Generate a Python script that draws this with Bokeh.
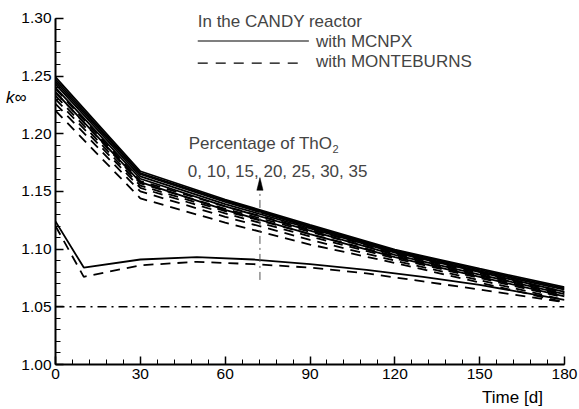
from bokeh.plotting import figure
from bokeh.models import (Range1d, SingleIntervalTicker, Label, NumeralTickFormatter,
                          LinearAxis, FixedTicker, CustomJSTickFormatter)
from bokeh.embed import file_html
from bokeh.resources import INLINE

FONT = "Liberation Sans"

# ---- data ----
t_main = [0, 30, 60, 90, 120, 150, 180]
percentages = [10, 15, 20, 25, 30, 35]
mcnpx_10 = [1.236, 1.158, 1.134, 1.113, 1.093, 1.076, 1.059]
mcnpx_15 = [1.240, 1.161, 1.137, 1.116, 1.095, 1.078, 1.061]
mcnpx_20 = [1.243, 1.163, 1.139, 1.118, 1.097, 1.080, 1.063]
mcnpx_25 = [1.245, 1.165, 1.141, 1.119, 1.098, 1.081, 1.065]
mcnpx_30 = [1.247, 1.166, 1.142, 1.120, 1.099, 1.082, 1.066]
mcnpx_35 = [1.249, 1.1675, 1.143, 1.121, 1.0995, 1.083, 1.067]
mb_10 = [1.220, 1.144, 1.123, 1.104, 1.088, 1.071, 1.054]
mb_15 = [1.226, 1.150, 1.128, 1.108, 1.090, 1.073, 1.056]
mb_20 = [1.230, 1.153, 1.131, 1.111, 1.092, 1.075, 1.058]
mb_25 = [1.233, 1.155, 1.133, 1.113, 1.094, 1.077, 1.060]
mb_30 = [1.236, 1.157, 1.135, 1.115, 1.096, 1.079, 1.062]
mb_35 = [1.239, 1.159, 1.137, 1.117, 1.097, 1.080, 1.063]

t_zero = [0, 10, 30, 50, 70, 90, 110, 130, 150, 180]
mcnpx_0 = [1.124, 1.084, 1.091, 1.093, 1.091, 1.087, 1.082, 1.076, 1.069, 1.056]
mb_0 = [1.120, 1.076, 1.086, 1.089, 1.087, 1.084, 1.079, 1.072, 1.065, 1.054]

limit_t = [0, 180]
limit_k = [1.05, 1.05]

x_ticks_interval = 30
y_ticks_interval = 0.05

# ---- figure ----
p = figure(width=579, height=409, output_backend="svg", toolbar_location=None,
           x_range=Range1d(0, 180), y_range=Range1d(1.0, 1.3155),
           min_border_left=55, min_border_right=15, min_border_top=0, min_border_bottom=43)
p.outline_line_color = None
p.xgrid.visible = False
p.ygrid.visible = False
p.background_fill_color = "white"
p.border_fill_color = "white"

xax = p.xaxis[0]
yax = p.yaxis[0]
xax.ticker = SingleIntervalTicker(interval=x_ticks_interval, num_minor_ticks=5)
yax.ticker = SingleIntervalTicker(interval=y_ticks_interval, num_minor_ticks=5)
yax.formatter = NumeralTickFormatter(format="0.00")
yax.bounds = (1.0, 1.3)
for ax in (xax, yax):
    ax.axis_line_width = 2
    ax.axis_line_color = "black"
    ax.major_tick_in = 8
    ax.major_tick_out = 0
    ax.minor_tick_in = 5
    ax.minor_tick_out = 0
    ax.major_tick_line_width = 1.5
    ax.minor_tick_line_width = 1
    ax.major_tick_line_color = "black"
    ax.minor_tick_line_color = "black"
    ax.major_label_text_font = FONT
    ax.major_label_text_font_size = "15.5px"
    ax.major_label_text_color = "black"
    ax.major_label_standoff = 4

# ---- axis titles as extra label-only axes ----
time_axis = LinearAxis(ticker=FixedTicker(ticks=[161.6], minor_ticks=[]),
                       formatter=CustomJSTickFormatter(code="return 'Time [d]'"),
                       axis_line_color=None, major_tick_line_color=None,
                       minor_tick_line_color=None, major_label_standoff=0,
                       major_label_text_font=FONT, major_label_text_font_size="17px",
                       major_label_text_color="black")
p.add_layout(time_axis, "below")
k_axis = LinearAxis(ticker=FixedTicker(ticks=[1.231], minor_ticks=[]),
                    formatter=CustomJSTickFormatter(code="return 'k\u221e'"),
                    axis_line_color=None, major_tick_line_color=None,
                    minor_tick_line_color=None, major_label_standoff=-14,
                    major_label_text_font=FONT, major_label_text_font_size="17px",
                    major_label_text_font_style="italic",
                    major_label_text_color="black")
p.add_layout(k_axis, "left")

# ---- curves ----
for k in [mcnpx_10, mcnpx_15, mcnpx_20, mcnpx_25, mcnpx_30, mcnpx_35]:
    p.line(t_main, k, line_color="black", line_width=1.8)
for k in [mb_10, mb_15, mb_20, mb_25, mb_30, mb_35]:
    p.line(t_main, k, line_color="black", line_width=1.8, line_dash="10 7")
p.line(t_zero, mcnpx_0, line_color="black", line_width=1.8)
p.line(t_zero, mb_0, line_color="black", line_width=1.8, line_dash="10 7")
p.line(limit_t, limit_k, line_color="black", line_width=1.6, line_dash="9 5 2 5")

# ---- legend (drawn by hand) ----
p.line([50.3, 89.6], [1.2804, 1.2804], line_color="black", line_width=1.2)
p.line([50.3, 88.5], [1.2612, 1.2612], line_color="black", line_width=1.2, line_dash="10 8")
p.add_layout(Label(x=50.3, y=1.2974, text="In the CANDY reactor", text_font=FONT,
                   text_font_size="17px", text_baseline="alphabetic"))
p.add_layout(Label(x=92.1, y=1.2797, text="with MCNPX", text_font=FONT,
                   text_font_size="17px", text_baseline="middle"))
p.add_layout(Label(x=92.1, y=1.2622, text="with MONTEBURNS", text_font=FONT,
                   text_font_size="17px", text_baseline="middle"))

# ---- percentage annotation ----
p.add_layout(Label(x=47.1, y=1.1918, text="Percentage of ThO", text_font=FONT,
                   text_font_size="17px", text_baseline="alphabetic"))
p.add_layout(Label(x=98.0, y=1.1866, text="2", text_font=FONT,
                   text_font_size="11px", text_baseline="alphabetic"))
p.add_layout(Label(x=46.8, y=1.1677, text="0, 10, 15, 20, 25, 30, 35", text_font=FONT,
                   text_font_size="17px", text_baseline="alphabetic"))
ARROW_X = 72.3
p.line([ARROW_X, ARROW_X], [1.0733, 1.151], line_color="#555555", line_width=1,
       line_dash="8 4 2 4")
p.patch([ARROW_X - 1.1, ARROW_X, ARROW_X + 1.1], [1.151, 1.162, 1.151],
        fill_color="black", line_color="black", line_width=0.5)

open("out.html", "w").write(file_html(p, INLINE))
